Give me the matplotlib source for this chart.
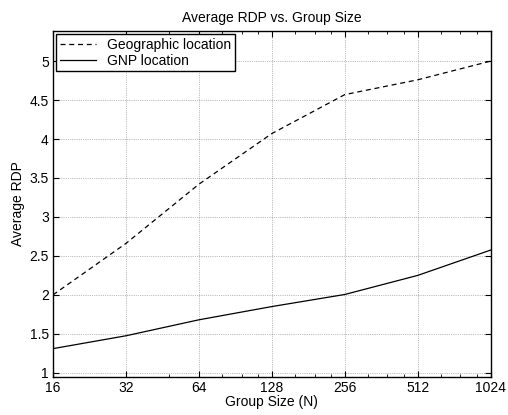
import matplotlib
matplotlib.use('Agg')
import matplotlib.pyplot as plt
from matplotlib.ticker import FixedLocator, NullFormatter

group_size = [16, 32, 64, 128, 256, 512, 1024]
geo_rdp = [2.0, 2.66, 3.42, 4.07, 4.57, 4.76, 5.0]
gnp_rdp = [1.31, 1.475, 1.68, 1.85, 2.005, 2.25, 2.575]
y_ticks = [1, 1.5, 2, 2.5, 3, 3.5, 4, 4.5, 5]
minor_x = [48, 80, 96, 112, 160, 192, 224, 320, 384, 448, 640, 768, 896]

plt.rcParams['font.family'] = ['Liberation Sans', 'DejaVu Sans']
plt.rcParams['font.size'] = 10

fig = plt.figure(figsize=(5.08, 4.15), dpi=100)
ax = fig.add_axes([0.1043, 0.0923, 0.8616, 0.8337])

ax.plot(group_size, geo_rdp, color='k', lw=0.9, dashes=(4, 3),
        label='Geographic location')
ax.plot(group_size, gnp_rdp, color='k', lw=0.9, label='GNP location')

ax.set_xscale('log', base=2)
ax.set_xlim(16, 1024)
ax.set_ylim(0.95, 5.39)
ax.set_xticks(group_size)
ax.set_xticklabels([str(g) for g in group_size])
ax.xaxis.set_minor_locator(FixedLocator(minor_x))
ax.xaxis.set_minor_formatter(NullFormatter())
ax.set_yticks(y_ticks)
ax.set_yticklabels(['%g' % v for v in y_ticks])

ax.grid(True, which='major', color='k', linestyle=':', lw=0.5, alpha=0.5)
ax.tick_params(which='both', direction='in', top=True, right=True)
ax.tick_params(which='major', length=4, width=0.8, pad=3)
ax.tick_params(which='minor', length=2, width=0.6)
for sp in ax.spines.values():
    sp.set_linewidth(1.0)

ax.set_title('Average RDP vs. Group Size', fontsize=10, pad=6)
ax.set_xlabel('Group Size (N)', labelpad=0)
ax.set_ylabel('Average RDP', labelpad=3)

leg = ax.legend(loc='upper left', fancybox=False, framealpha=1,
                edgecolor='k', borderaxespad=0.25, handlelength=2.6,
                borderpad=0.25, labelspacing=0.15, handletextpad=0.8)
leg.get_frame().set_linewidth(1.0)

fig.savefig('out.png', dpi=100)
